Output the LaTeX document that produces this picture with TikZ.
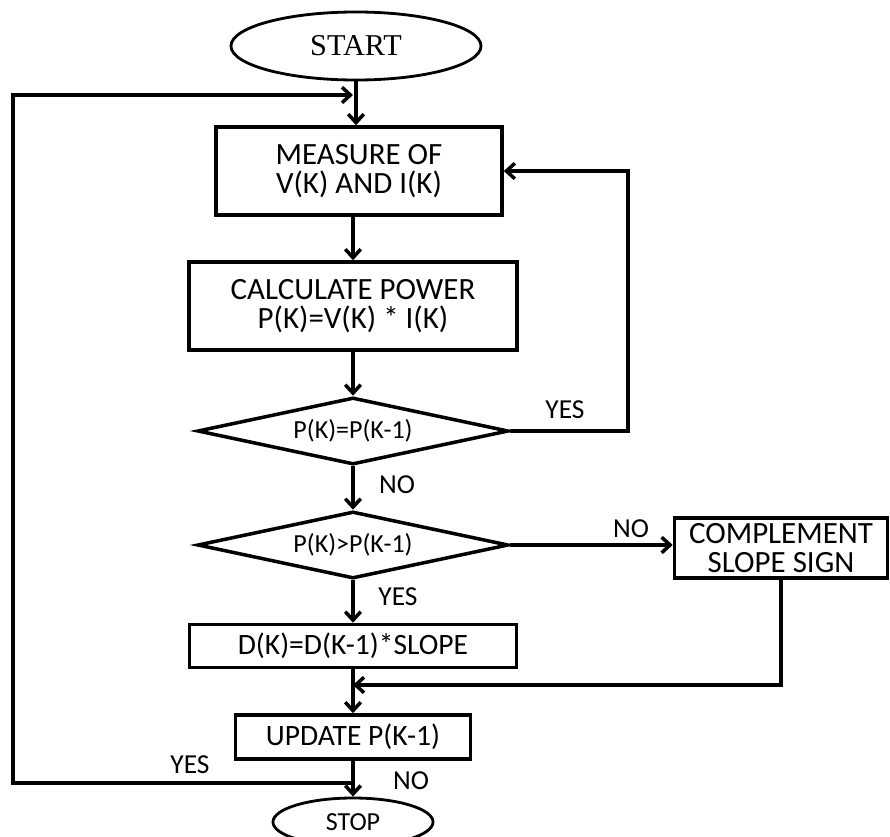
\documentclass[tikz,border=0pt]{standalone}
\usepackage{fontspec}
\setmainfont{Carlito}
\newfontfamily\startfont{Liberation Serif}
\usetikzlibrary{shapes.geometric,arrows.meta}

\begin{document}
\begin{tikzpicture}[x=0.025cm,y=-0.025cm,
    box/.style={draw, line width=2.5pt, inner sep=0pt, align=center, font=\fontsize{22}{21}\selectfont},
    dia/.style={diamond, draw, line width=2.5pt, aspect=4.6, inner sep=0pt, minimum width=7.775cm, minimum height=1.675cm, font=\fontsize{18.5}{20}\selectfont},
    term/.style={ellipse, draw, line width=2pt, inner sep=0pt},
    lbl/.style={inner sep=0pt, font=\fontsize{19.5}{20}\selectfont},
    arr/.style={line width=2.5pt, -{Straight Barb[length=6pt,width=11pt]}}]
    \useasboundingbox (0,0) rectangle (890,837);
    \node[term, minimum width=6.25cm, minimum height=1.7cm, font=\startfont\fontsize{21.5}{22}\selectfont] (start) at (356,46) {START};
    \node[box, minimum width=7.15cm, minimum height=2.2cm] (measure) at (359,171) {MEASURE OF\\V(K) AND I(K)};
    \node[box, minimum width=8.2cm, minimum height=2.2cm] (calc) at (353,306) {CALCULATE POWER\\P(K)=V(K) * I(K)};
    \node[dia] (eq) at (353,431) {P(K)=P(K-1)};
    \node[dia] (gt) at (353,545) {P(K)>P(K-1)};
    \node[box, minimum width=5.325cm, minimum height=1.5cm] (comp) at (781,548) {COMPLEMENT\\SLOPE SIGN};
    \node[box, minimum width=8.175cm, minimum height=1.075cm, font=\fontsize{21}{22}\selectfont] (slope) at (353,646) {D(K)=D(K-1)*SLOPE};
    \node[box, minimum width=5.875cm, minimum height=1.1cm, font=\fontsize{21}{22}\selectfont] (upd) at (353,737) {UPDATE P(K-1)};
    \node[term, minimum width=4cm, minimum height=1.2cm, font=\fontsize{18.5}{20}\selectfont] (stop) at (353,822) {STOP};
    \node[lbl] (yes1) at (565,410) {YES};
    \node[lbl] (no1) at (397,485) {NO};
    \node[lbl] (no2) at (631,529) {NO};
    \node[lbl] (yes2) at (398,597) {YES};
    \node[lbl] (yes3) at (190,765) {YES};
    \node[lbl] (no3) at (411,781) {NO};
    \coordinate (yesturn) at (628,171);
    \coordinate (merge) at (353,685);
    \coordinate (loopin) at (353,95);
    \coordinate (loopout) at (353,783);
    \coordinate (lt) at (13,95);
    \coordinate (lb) at (13,783);
    \draw[arr] (start.south) -- (start.south |- measure.north);
    \draw[arr] (calc.north |- measure.south) -- (calc.north);
    \draw[arr] (calc.south) -- (eq.north);
    \draw[arr] (eq.east) -| (yesturn) -- (measure.east);
    \draw[arr] (eq.south) -- (gt.north);
    \draw[arr] (gt.east) -- (gt.east -| comp.west);
    \draw[arr] (gt.south) -- (slope.north);
    \draw[arr] (slope.south) -- (upd.north);
    \draw[arr] (comp.south) |- (merge);
    \draw[arr] (upd.south) -- (stop.north);
    \draw[arr] (loopout) -- (lb) -- (lt) -- (loopin);
\end{tikzpicture}
\end{document}
